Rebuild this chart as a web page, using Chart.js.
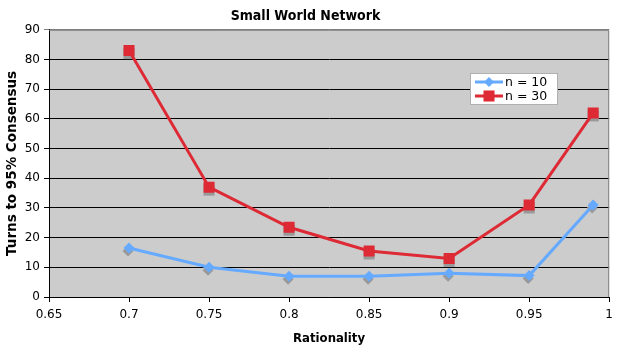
<!DOCTYPE html>
<html><head><meta charset="utf-8">
<script src="https://cdn.jsdelivr.net/npm/chart.js@4/dist/chart.umd.min.js"></script>
<style>html,body{margin:0;padding:0;background:#fff}#w{width:619px;height:358px}</style>
</head><body><div id="w"><canvas id="c" width="619" height="358"></canvas></div>
<script>
const rationality = [0.7, 0.75, 0.8, 0.85, 0.9, 0.95, 0.99];
const n10 = [16.5, 10, 7, 7, 8, 7.2, 31];
const n30 = [83, 37, 23.5, 15.5, 13, 31, 62];
const seriesLabels = ['n = 10', 'n = 30'];
const xTicks = [0.65, 0.7, 0.75, 0.8, 0.85, 0.9, 0.95, 1];

const FONT = 'DejaVu Sans';
const TFONT = "'DejaVu Sans Condensed', 'DejaVu Sans'";

function drawMarker(ctx, style, x, y, r) {
  ctx.beginPath();
  if (style === 'rectRot') {
    ctx.moveTo(x, y - r); ctx.lineTo(x + r, y); ctx.lineTo(x, y + r); ctx.lineTo(x - r, y);
  } else {
    const s = r * Math.SQRT1_2;
    ctx.rect(x - s, y - s, 2 * s, 2 * s);
  }
  ctx.closePath();
  ctx.fill();
}

const frame = {
  id: 'frame',
  beforeDraw(chart) {
    const {ctx, chartArea: a} = chart;
    ctx.save();
    ctx.fillStyle = '#cccccc';
    ctx.fillRect(a.left, a.top, a.right - a.left, a.bottom - a.top);
    ctx.restore();
  },
  beforeDatasetsDraw(chart) {
    const ctx = chart.ctx;
    ctx.save();
    ctx.fillStyle = '#999999';
    chart.data.datasets.forEach((ds, i) => {
      const meta = chart.getDatasetMeta(i);
      const dx = ds.pointStyle === 'rectRot' ? -1 : 0;
      meta.data.forEach(el => drawMarker(ctx, ds.pointStyle, el.x + dx, el.y + 3, ds.pointRadius));
    });
    ctx.restore();
  },
  afterDraw(chart) {
    const {ctx, chartArea: a} = chart;
    ctx.save();
    ctx.strokeStyle = '#808080';
    ctx.lineWidth = 1;
    ctx.beginPath();
    ctx.moveTo(a.left, a.top + 0.5);
    ctx.lineTo(a.right - 0.5, a.top + 0.5);
    ctx.lineTo(a.right - 0.5, a.bottom);
    ctx.stroke();
    // legend
    const lx = 470, ly = 73, lw = 87, lh = 31;
    ctx.fillStyle = '#ffffff';
    ctx.fillRect(lx, ly, lw, lh);
    ctx.strokeStyle = '#b0b0b0';
    ctx.strokeRect(lx + 0.5, ly + 0.5, lw, lh);
    ctx.font = '12.5px ' + FONT;
    ctx.textBaseline = 'middle';
    chart.data.datasets.forEach((ds, i) => {
      const y = ly + 9 + i * 14;
      ctx.strokeStyle = ds.borderColor;
      ctx.lineWidth = 3;
      ctx.beginPath(); ctx.moveTo(lx + 5, y); ctx.lineTo(lx + 33, y); ctx.stroke();
      ctx.fillStyle = ds.backgroundColor;
      if (i === 0) drawMarker(ctx, 'rectRot', lx + 19, y, 5);
      else drawMarker(ctx, 'rect', lx + 19, y, 7.8);
      ctx.fillStyle = '#000';
      ctx.fillText(ds.label, lx + 35, y + 1);
    });
    ctx.restore();
  }
};

new Chart(document.getElementById('c'), {
  type: 'line',
  data: {
    datasets: [
      { label: seriesLabels[0], data: rationality.map((x, i) => ({x, y: n10[i]})),
        borderColor: '#66aaff', backgroundColor: '#66aaff', borderWidth: 3,
        pointStyle: 'rectRot', pointRadius: 5.5, pointHoverRadius: 5.5, pointBorderWidth: 0, tension: 0 },
      { label: seriesLabels[1], data: rationality.map((x, i) => ({x, y: n30[i]})),
        borderColor: '#dd2a35', backgroundColor: '#dd2a35', borderWidth: 3,
        pointStyle: 'rect', pointRadius: 7.8, pointHoverRadius: 7.8, pointBorderWidth: 0, tension: 0 }
    ]
  },
  options: {
    responsive: false, animation: false, devicePixelRatio: 1,
    layout: { padding: { left: 0, right: 8, top: 0, bottom: 8 } },
    plugins: {
      legend: { display: false },
      tooltip: { enabled: false },
      title: { display: true, text: 'Small World Network', color: '#000',
        font: { family: TFONT, size: 14, weight: 'bold' }, padding: { top: 8, bottom: 5 } }
    },
    scales: {
      x: {
        type: 'linear', min: 0.65, max: 1,
        afterBuildTicks(s) { s.ticks = xTicks.map(v => ({value: v})); },
        afterFit(s) { s.height = 53; },
        ticks: { color: '#000', font: { family: FONT, size: 12 }, padding: 6,
          callback: v => String(v), maxRotation: 0, autoSkip: false },
        grid: { drawOnChartArea: false, color: '#000', tickLength: 5 },
        border: { color: '#000', width: 1 },
        title: { display: true, text: 'Rationality', color: '#000',
          font: { family: TFONT, size: 13, weight: 'bold' }, padding: { top: 4 } }
      },
      y: {
        min: 0, max: 90,
        afterFit(s) { s.width = 49; },
        ticks: { stepSize: 10, color: '#000', font: { family: FONT, size: 12 }, padding: 4 },
        grid: { color: c => c.tick && c.tick.value === 90 ? '#808080' : '#000', tickLength: 5 },
        border: { color: '#000', width: 1 },
        title: { display: true, text: 'Turns to 95% Consensus', color: '#000',
          font: { family: FONT, size: 13.5, weight: 'bold' }, padding: { bottom: 2 } }
      }
    }
  },
  plugins: [frame]
});
</script>
</body></html>
